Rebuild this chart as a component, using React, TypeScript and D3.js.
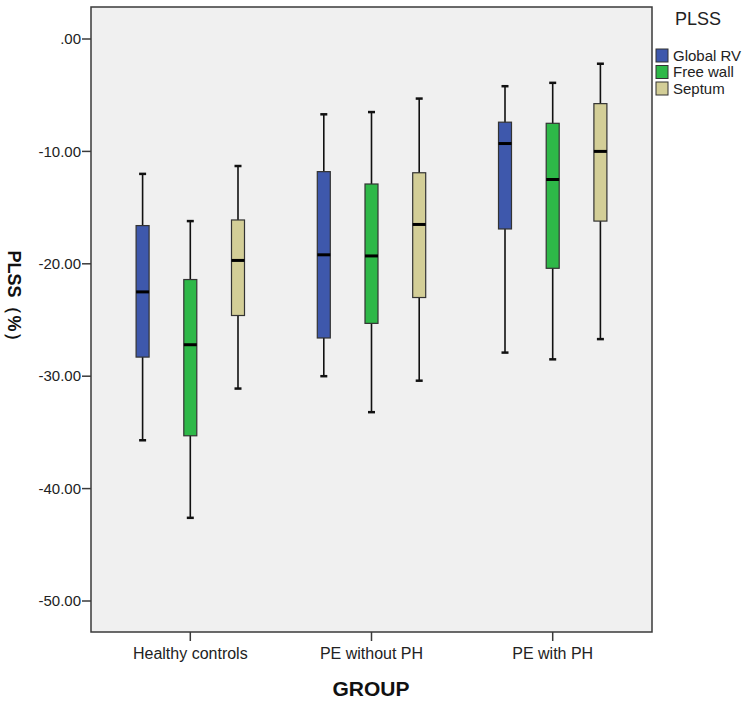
import React from "react";
import * as d3 from "d3";

const groups = ["Healthy controls", "PE without PH", "PE with PH"];
const series = ["Global RV", "Free wall", "Septum"];
const colors = ["#3E58AC", "#2EB848", "#D3CE97"];
const yTicks = [0, -10, -20, -30, -40, -50];

// [whiskerLow, q1, median, q3, whiskerHigh] per group, per series
const globalRV = [
  [-35.7, -28.3, -22.5, -16.6, -12.0],
  [-30.0, -26.6, -19.2, -11.8, -6.7],
  [-27.9, -16.9, -9.3, -7.4, -4.2],
];
const freeWall = [
  [-42.6, -35.3, -27.2, -21.4, -16.2],
  [-33.2, -25.3, -19.3, -12.9, -6.5],
  [-28.5, -20.4, -12.5, -7.5, -3.9],
];
const septum = [
  [-31.1, -24.6, -19.7, -16.1, -11.3],
  [-30.4, -23.0, -16.5, -11.9, -5.3],
  [-26.7, -16.2, -10.0, -5.75, -2.2],
];
const seriesData = [globalRV, freeWall, septum];

const W = 749, H = 703;
const plotL = 91, plotR = 652, plotT = 7, plotB = 632;
const font = "'Liberation Sans', Arial, sans-serif";

const fmt = (t: number) => (t === 0 ? ".00" : d3.format(".2f")(t).replace("\u2212", "-"));

export default function App() {
  const x = d3.scalePoint<string>().domain(groups).range([plotL, plotR]).padding(0.548);
  const sub = d3.scalePoint<string>().domain(series).range([-47.7, 47.7]);
  const y = d3.scaleLinear().domain([0, -50]).range([39, 601]);
  const bw = 13;
  const capW = 7;

  return (
    <svg width={W} height={H} style={{ position: "absolute", left: 0, top: 0, background: "#fff" }}>
      <rect x={plotL} y={plotT} width={plotR - plotL} height={plotB - plotT} fill="#F0F0F0" stroke="#3a3a3a" strokeWidth={1.5} />
      {yTicks.map((t) => (
        <g key={t}>
          <line x1={plotL - 9} x2={plotL} y1={y(t)} y2={y(t)} stroke="#3a3a3a" strokeWidth={1.5} />
          <text x={plotL - 10} y={y(t)} dy="0.35em" textAnchor="end" fontFamily={font} fontSize={15} fill="#222">
            {fmt(t)}
          </text>
        </g>
      ))}
      {groups.map((g) => (
        <g key={g}>
          <line x1={x(g)} x2={x(g)} y1={plotB} y2={plotB + 9} stroke="#3a3a3a" strokeWidth={1.5} />
          <text x={x(g)} y={659} textAnchor="middle" fontFamily={font} fontSize={16} fill="#222">{g}</text>
        </g>
      ))}
      {series.map((s, si) =>
        groups.map((g, gi) => {
          const [lo, q1, med, q3, hi] = seriesData[si][gi];
          const cx = (x(g) as number) + (sub(s) as number);
          return (
            <g key={s + g}>
              <line x1={cx} x2={cx} y1={y(hi)} y2={y(lo)} stroke="#111" strokeWidth={1.6} />
              <line x1={cx - capW / 2} x2={cx + capW / 2} y1={y(hi)} y2={y(hi)} stroke="#111" strokeWidth={2.5} />
              <line x1={cx - capW / 2} x2={cx + capW / 2} y1={y(lo)} y2={y(lo)} stroke="#111" strokeWidth={2.5} />
              <rect x={cx - bw / 2} y={y(q3)} width={bw} height={y(q1) - y(q3)} fill={colors[si]} stroke="#333" strokeWidth={1.2} />
              <line x1={cx - bw / 2} x2={cx + bw / 2} y1={y(med)} y2={y(med)} stroke="#000" strokeWidth={3} />
            </g>
          );
        })
      )}
      <text x={371} y={696} textAnchor="middle" fontFamily={font} fontSize={21} fontWeight="bold" fill="#111">GROUP</text>
      <text transform={`translate(8,300) rotate(90)`} textAnchor="middle" fontFamily={font} fontSize={18} fontWeight="bold" fill="#111">PLSS（%）</text>
      <text x={675} y={25} fontFamily={font} fontSize={18} fill="#222">PLSS</text>
      {series.map((s, i) => (
        <g key={s}>
          <rect x={656} y={49 + i * 16.5} width={12} height={13} fill={colors[i]} stroke="#333" strokeWidth={1} />
          <text x={673} y={55.5 + i * 16.5} dy="0.35em" fontFamily={font} fontSize={15} fill="#222">{s}</text>
        </g>
      ))}
    </svg>
  );
}
